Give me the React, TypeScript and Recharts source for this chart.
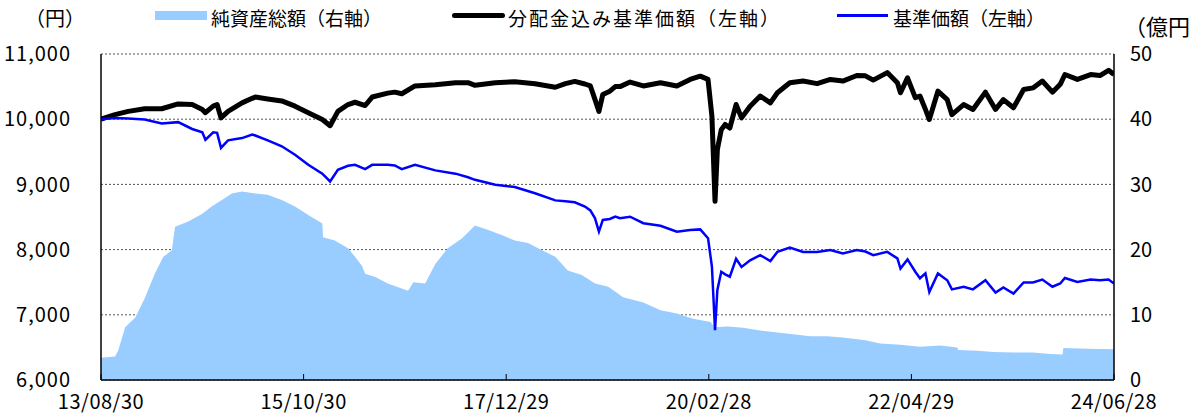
import { ComposedChart, Area, Line, XAxis, YAxis, CartesianGrid } from 'recharts';

const FONT = "'Noto Sans CJK JP', 'Noto Sans', sans-serif";

// x axis: months since 13/08/30
const tickMonths = [0, 26, 52, 78, 104, 130];
const tickLabels = ['13/08/30', '15/10/30', '17/12/29', '20/02/28', '22/04/29', '24/06/28'];
const leftTicks = [6000, 7000, 8000, 9000, 10000, 11000];
const rightTicks = [0, 10, 20, 30, 40, 50];

// 基準価額 / 分配金込み基準価額 (円)
const navMonths = [
  0, 1.8, 3.5, 5.6, 7.8, 9.9, 11.7, 13.0, 13.4, 14.4, 14.9, 15.4, 16.3, 18.1, 19.4, 19.8,
  21.4, 23.2, 24.9, 26.6, 28.4, 29.4, 30.4, 31.7, 32.6, 33.9, 34.8, 36.8, 37.7, 38.6, 40.3,
  42.9, 45.5, 47.1, 48.0, 50.6, 53.1, 55.7, 58.3, 59.6, 60.8, 62.1, 62.8, 63.4, 63.9, 64.4,
  65.3, 66.0, 66.6, 67.9, 69.6, 71.8, 73.9, 75.6, 76.9, 77.9, 78.4, 78.8, 79.1, 79.6, 80.1,
  80.7, 81.5, 82.2, 83.3, 84.6, 85.9, 86.8, 88.4, 90.1, 91.9, 93.6, 95.2, 97.0, 98.1, 99.1,
  100.9, 102.2, 102.6, 103.5, 104.5, 105.1, 105.8, 106.3, 107.4, 108.6, 109.2, 110.7, 111.9,
  113.5, 114.8, 115.8, 117.1, 118.4, 119.6, 120.8, 122.1, 123.1, 123.7, 125.3, 127.0, 128.2,
  129.3, 130,
];
const navWithDividends = [
  10000, 10070, 10120, 10160, 10160, 10235, 10225, 10150, 10100, 10200, 10225, 10020, 10120, 10250, 10320, 10340,
  10310, 10280, 10200, 10100, 9995, 9900, 10120, 10225, 10260, 10210, 10340, 10400, 10415, 10390, 10510,
  10530, 10560, 10560, 10520, 10560, 10575, 10545, 10490, 10545, 10580, 10540, 10510, 10300, 10120, 10380,
  10430, 10500, 10500, 10570, 10510, 10560, 10510, 10610, 10660, 10610, 10045, 8740, 9535, 9840, 9920,
  9865, 10225, 10020, 10200, 10355, 10250, 10405, 10560, 10585, 10545, 10610, 10585, 10670, 10665, 10600,
  10715, 10560, 10405, 10635, 10330, 10355, 10150, 9995, 10430, 10300, 10070, 10225, 10150,
  10415, 10150, 10300, 10175, 10455, 10480, 10585, 10415, 10535, 10685, 10610, 10685, 10670,
  10750, 10685,
];
const nav = [
  10000, 10020, 10010, 9995, 9935, 9955, 9850, 9800, 9685, 9800, 9790, 9560, 9675, 9710, 9765, 9750,
  9675, 9585, 9455, 9300, 9165, 9045, 9225, 9285, 9300, 9235, 9300, 9300, 9290, 9235, 9300,
  9215, 9165, 9110, 9070, 8995, 8960, 8865, 8755, 8740, 8725, 8660, 8600, 8480, 8275, 8455,
  8470, 8505, 8480, 8505, 8405, 8365, 8275, 8300, 8310, 8175, 7740, 6765, 7380, 7660, 7620,
  7585, 7860, 7735, 7835, 7915, 7825, 7965, 8030, 7965, 7965, 7995, 7940, 7995, 7970, 7915,
  7965, 7865, 7710, 7850, 7660, 7560, 7635, 7350, 7635, 7530, 7390, 7430, 7390,
  7530, 7340, 7420, 7325, 7495, 7495, 7540, 7430, 7480, 7565, 7505, 7540, 7530,
  7540, 7480,
];

// 純資産総額 (億円)
const aumMonths = [
  0, 1.8, 2.2, 3.1, 4.4, 5.6, 6.9, 8.0, 9.1, 9.5, 11.2, 13.0, 14.2, 15.5, 16.8, 18.1, 19.8,
  21.4, 23.2, 24.9, 26.6, 28.4, 28.5, 30.0, 31.7, 32.6, 33.5, 33.9, 35.2, 36.8, 39.4, 40.1,
  41.6, 42.9, 44.5, 46.3, 48.0, 49.7, 51.5, 53.1, 54.8, 56.6, 58.3, 59.9, 61.7, 63.4, 65.1,
  67.0, 69.6, 71.8, 73.9, 76.0, 78.2, 78.8, 80.4, 82.4, 84.6, 86.8, 88.8, 91.0, 93.2, 95.2,
  98.1, 100.0, 102.6, 105.1, 107.7, 109.9, 110.0, 112.5, 114.5, 117.1, 119.6, 121.8, 123.4,
  123.5, 126.6, 130,
];
const aum = [
  3.4, 3.6, 4.5, 8.1, 9.6, 12.5, 16.3, 18.9, 19.9, 23.5, 24.3, 25.5, 26.6, 27.6, 28.6, 28.9, 28.6,
  28.4, 27.6, 26.6, 25.3, 24.0, 21.9, 21.4, 20.2, 18.9, 17.5, 16.3, 15.8, 14.8, 13.7, 15.0,
  14.8, 17.8, 20.2, 21.7, 23.7, 23.0, 22.2, 21.4, 21.0, 19.9, 18.9, 16.8, 16.1, 14.8, 14.3,
  12.7, 11.9, 10.7, 10.2, 9.4, 8.9, 8.1, 8.2, 8.0, 7.6, 7.3, 7.0, 6.7, 6.7, 6.5,
  6.1, 5.6, 5.4, 5.1, 5.3, 5.0, 4.6, 4.5, 4.3, 4.2, 4.2, 4.0, 3.9,
  4.9, 4.8, 4.7,
];

const navData = navMonths.map((m, i) => ({ m, withDiv: navWithDividends[i], nav: nav[i] }));
const aumData = aumMonths.map((m, i) => ({ m, aum: aum[i] }));

const textStyle: React.CSSProperties = {
  position: 'absolute',
  fontFamily: FONT,
  fontSize: 19,
  lineHeight: '19px',
  color: '#000',
  whiteSpace: 'nowrap',
};

const LeftTick = (props: any) => (
  <text x={71} y={props.y} dy="0.36em" textAnchor="end" fill="#000" fontSize={20} letterSpacing={1} fontFamily={FONT}>
    {Number(props.payload.value).toLocaleString('en-US')}
  </text>
);

const RightTick = (props: any) => (
  <text x={1130} y={props.y} dy="0.36em" textAnchor="start" fill="#000" fontSize={20} fontFamily={FONT}>
    {props.payload.value}
  </text>
);

export default function App() {
  return (
    <div style={{ position: 'absolute', left: 0, top: 0, width: 1191, height: 414, background: '#fff', overflow: 'hidden' }}>
      <ComposedChart
        width={1191}
        height={414}
        margin={{ top: 54, right: 0, bottom: 0, left: 0 }}
        style={{ fontFamily: FONT }}
      >
        <CartesianGrid yAxisId="left" vertical={false} stroke="#555" strokeDasharray="2 2" />
        <XAxis
          dataKey="m"
          type="number"
          domain={[0, 130]}
          ticks={tickMonths}
          tickFormatter={(v) => tickLabels[tickMonths.indexOf(v)] ?? ''}
          height={34}
          tickSize={-6}
          tickMargin={21}
          axisLine={{ stroke: '#000', strokeWidth: 1.5 }}
          tickLine={{ stroke: '#000' }}
          tick={{ fill: '#000', fontSize: 20, letterSpacing: 0.5 }}
          allowDataOverflow
        />
        <YAxis
          yAxisId="left"
          domain={[6000, 11000]}
          ticks={leftTicks}
          width={101}
          tickLine={false}
          axisLine={{ stroke: '#000', strokeWidth: 1.5 }}
          tick={LeftTick}
          allowDataOverflow
        />
        <YAxis
          yAxisId="right"
          orientation="right"
          domain={[0, 50]}
          ticks={rightTicks}
          width={77}
          tickLine={false}
          axisLine={{ stroke: '#000', strokeWidth: 1.5 }}
          tick={RightTick}
          allowDataOverflow
        />
        <Area
          yAxisId="right"
          data={aumData}
          dataKey="aum"
          type="linear"
          stroke="none"
          fill="#99ccff"
          fillOpacity={1}
          isAnimationActive={false}
          dot={false}
          activeDot={false}
        />
        <Line
          yAxisId="left"
          data={navData}
          dataKey="withDiv"
          type="linear"
          stroke="#000"
          strokeWidth={5}
          strokeLinejoin="round"
          dot={false}
          activeDot={false}
          isAnimationActive={false}
        />
        <Line
          yAxisId="left"
          data={navData}
          dataKey="nav"
          type="linear"
          stroke="#0000ff"
          strokeWidth={2.5}
          dot={false}
          activeDot={false}
          isAnimationActive={false}
        />
      </ComposedChart>

      <div style={{ ...textStyle, left: 25, top: 8, fontSize: 20, lineHeight: '20px' }}>（円）</div>
      <div style={{ ...textStyle, left: 1124, top: 14, fontSize: 22, lineHeight: '22px' }}>（億円）</div>

      <div style={{ position: 'absolute', left: 155, top: 11, width: 52, height: 9, background: '#99ccff' }} />
      <div style={{ ...textStyle, left: 211, top: 8 }}>純資産総額（右軸）</div>

      <div style={{ position: 'absolute', left: 452, top: 13, width: 53, height: 5, borderRadius: 2.5, background: '#000' }} />
      <div style={{ ...textStyle, left: 508, top: 8, letterSpacing: 2 }}>分配金込み基準価額（左軸）</div>

      <div style={{ position: 'absolute', left: 837, top: 14, width: 51, height: 2.5, background: '#0000ff' }} />
      <div style={{ ...textStyle, left: 893, top: 8 }}>基準価額（左軸）</div>
    </div>
  );
}
